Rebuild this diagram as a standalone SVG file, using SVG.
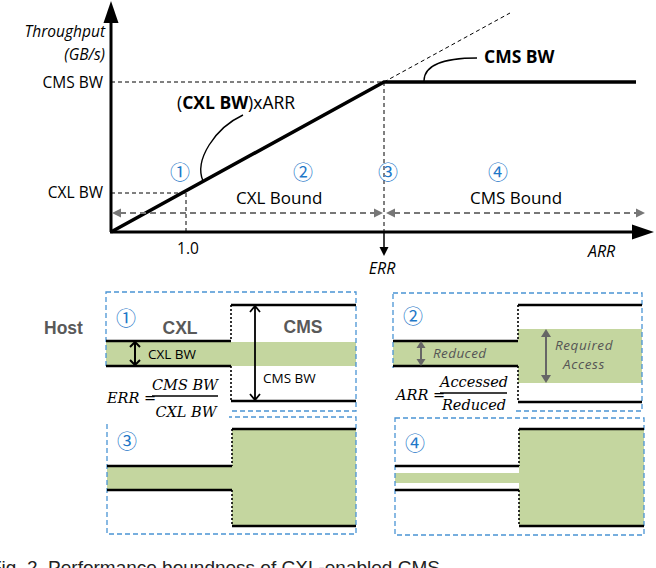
<svg xmlns="http://www.w3.org/2000/svg" width="656" height="568" viewBox="0 0 656 568">
<style>
.sans{font-family:"Open Sans","Noto Sans",sans-serif;fill:#000}
.it{font-style:italic}
.math{font-family:"DejaVu Serif","Liberation Serif",serif;font-style:italic;fill:#000}
.circ{font-family:"Noto Sans CJK JP","DejaVu Sans",sans-serif;fill:#1f78c8;font-size:20px;text-anchor:middle}
.panel{fill:none;stroke:#4a94d4;stroke-width:1.3;stroke-dasharray:5,3}
.wire{stroke:#000;stroke-width:2.5;fill:none}
.dotv{stroke:#000;stroke-width:1.6;stroke-dasharray:2,2;fill:none}
.green{fill:#c4d69f}
.thin{stroke:#000;stroke-width:1;stroke-dasharray:4,3;fill:none}
.hd{font-family:"Liberation Sans",Arial,sans-serif;font-weight:bold;fill:#595959;font-size:17.5px}
.gray{stroke:#777;stroke-width:2;stroke-dasharray:6,4;fill:none}
</style>
<rect width="656" height="568" fill="#fff"/>

<g id="chart">
  <g id="axes">
    <line x1="111" y1="232" x2="111" y2="20" stroke="#000" stroke-width="3"/>
    <polygon points="111,1 103.5,23 118.5,23" fill="#000"/>
    <line x1="110" y1="232" x2="634" y2="232" stroke="#000" stroke-width="3"/>
    <polygon points="654,232 632,224.5 632,239.5" fill="#000"/>
  </g>
  <g id="guides">
    <line class="thin" x1="111" y1="82" x2="384" y2="82"/>
    <line class="thin" x1="111" y1="193" x2="186" y2="193"/>
    <line class="thin" x1="186" y1="193" x2="186" y2="232"/>
    <line class="thin" x1="384" y1="82" x2="384" y2="232"/>
    <line class="thin" x1="384" y1="82" x2="510" y2="13"/>
  </g>
  <g id="curve">
    <polyline points="111,232 384,82 636,82" fill="none" stroke="#000" stroke-width="3.5"/>
    <path d="M424,81 C424,66 440,58 477,58" fill="none" stroke="#000" stroke-width="1.4"/>
    <path d="M243,115 C215,128 194,160 203,181" fill="none" stroke="#000" stroke-width="1.4"/>
  </g>
  <g id="bounds">
    <line class="gray" x1="120" y1="213" x2="376" y2="213"/>
    <polygon points="112,213 121,208.5 121,217.5" fill="#777"/>
    <polygon points="383,213 374,208.5 374,217.5" fill="#777"/>
    <line class="gray" x1="394" y1="213" x2="637" y2="213"/>
    <polygon points="386,213 395,208.5 395,217.5" fill="#777"/>
    <polygon points="645,213 636,208.5 636,217.5" fill="#777"/>
  </g>
  <g id="err-arrow">
    <line x1="384" y1="232" x2="384" y2="249" stroke="#000" stroke-width="1.5"/>
    <polygon points="384,256 379.5,247 388.5,247" fill="#000"/>
  </g>
  <g id="chart-labels">
    <text class="sans it" x="105" y="37" font-size="15.5" text-anchor="end">Throughput</text>
    <text class="sans it" x="105" y="60" font-size="15.5" text-anchor="end">(GB/s)</text>
    <text class="sans" x="103" y="88" font-size="15.5" text-anchor="end">CMS BW</text>
    <text class="sans" x="103" y="198" font-size="15.5" text-anchor="end">CXL BW</text>
    <text class="sans" x="188" y="254" font-size="15.5" text-anchor="middle">1.0</text>
    <text class="sans" x="177" y="109" font-size="17.5">(<tspan font-weight="bold">CXL BW</tspan>)xARR</text>
    <text class="sans" x="484" y="63" font-size="17.5" font-weight="bold">CMS BW</text>
    <text class="sans" x="236" y="204" font-size="17">CXL Bound</text>
    <text class="sans" x="470" y="204" font-size="17">CMS Bound</text>
    <text class="sans it" x="382" y="274" font-size="16" text-anchor="middle">ERR</text>
    <text class="sans it" x="588" y="257" font-size="16">ARR</text>
    <text class="circ" x="180" y="180">①</text>
    <text class="circ" x="303" y="180">②</text>
    <text class="circ" x="388" y="180">③</text>
    <text class="circ" x="498" y="180">④</text>
  </g>
</g>

<text class="hd" x="44" y="334" font-size="17">Host</text>

<g id="panel1">
  <rect class="green" x="106" y="342" width="250" height="24"/>
  <rect class="panel" x="106" y="292" width="250" height="119"/>
  <line class="wire" x1="106" y1="341" x2="231" y2="341"/>
  <line class="wire" x1="106" y1="366" x2="231" y2="366"/>
  <line class="wire" x1="231" y1="305" x2="356" y2="305"/>
  <line class="wire" x1="231" y1="401" x2="356" y2="401"/>
  <line class="dotv" x1="231" y1="305" x2="231" y2="341"/>
  <line class="dotv" x1="231" y1="366" x2="231" y2="401"/>
  <path d="M135,342 L135,365 M130,347 L135,342 L140,347 M130,360 L135,365 L140,360" fill="none" stroke="#000" stroke-width="2"/>
  <path d="M255,306 L255,400 M250,312 L255,306 L260,312 M250,394 L255,400 L260,394" fill="none" stroke="#000" stroke-width="1.8"/>
  <text class="circ" x="126" y="326">①</text>
  <text class="hd" x="180" y="334" text-anchor="middle">CXL</text>
  <text class="hd" x="303" y="333" text-anchor="middle">CMS</text>
  <text class="sans" x="148" y="359" font-size="13.5">CXL BW</text>
  <text class="sans" x="263" y="383" font-size="13.5">CMS BW</text>
</g>

<g id="panel2">
  <rect class="green" x="393" y="342" width="125" height="24"/>
  <rect class="green" x="518" y="329" width="124" height="54"/>
  <rect class="panel" x="393" y="293" width="249" height="118"/>
  <line class="wire" x1="393" y1="341" x2="518" y2="341"/>
  <line class="wire" x1="393" y1="366" x2="518" y2="366"/>
  <line class="wire" x1="518" y1="305" x2="642" y2="305"/>
  <line class="wire" x1="518" y1="402" x2="642" y2="402"/>
  <line class="dotv" x1="518" y1="305" x2="518" y2="341"/>
  <line class="dotv" x1="518" y1="366" x2="518" y2="402"/>
  <line x1="421" y1="347" x2="421" y2="360" stroke="#666" stroke-width="2"/>
  <polygon points="421,341 416.5,348 425.5,348" fill="#666"/>
  <polygon points="421,366 416.5,359 425.5,359" fill="#666"/>
  <line x1="546" y1="336" x2="546" y2="376" stroke="#666" stroke-width="2"/>
  <polygon points="546,329 541,337 551,337" fill="#666"/>
  <polygon points="546,383 541,375 551,375" fill="#666"/>
  <text class="circ" x="413" y="324">②</text>
  <text class="sans it" x="433" y="358" font-size="13.5" style="fill:#555" letter-spacing="0.4">Reduced</text>
  <text class="sans it" x="584" y="350" font-size="13.5" text-anchor="middle" style="fill:#555" letter-spacing="0.6">Required</text>
  <text class="sans it" x="584" y="369" font-size="13.5" text-anchor="middle" style="fill:#555" letter-spacing="0.6">Access</text>
</g>

<g id="panel3">
  <rect class="green" x="107" y="467" width="125" height="23"/>
  <rect class="green" x="232" y="429" width="124" height="97"/>
  <rect class="panel" x="107" y="417" width="249" height="117"/>
  <line class="wire" x1="107" y1="466" x2="232" y2="466"/>
  <line class="wire" x1="107" y1="490" x2="232" y2="490"/>
  <line class="wire" x1="232" y1="429" x2="356" y2="429"/>
  <line class="wire" x1="232" y1="526" x2="356" y2="526"/>
  <line class="dotv" x1="232" y1="429" x2="232" y2="466"/>
  <line class="dotv" x1="232" y1="490" x2="232" y2="526"/>
  <text class="circ" x="127" y="449">③</text>
</g>

<g id="panel4">
  <rect class="green" x="395" y="473" width="124" height="10"/>
  <rect class="green" x="519" y="429" width="125" height="97"/>
  <rect class="panel" x="395" y="418" width="249" height="117"/>
  <line class="wire" x1="395" y1="466" x2="519" y2="466"/>
  <line class="wire" x1="395" y1="490" x2="519" y2="490"/>
  <line class="wire" x1="519" y1="429" x2="644" y2="429"/>
  <line class="wire" x1="519" y1="526" x2="644" y2="526"/>
  <line class="dotv" x1="519" y1="429" x2="519" y2="466"/>
  <line class="dotv" x1="519" y1="490" x2="519" y2="526"/>
  <text class="circ" x="415" y="451">④</text>
</g>

<g id="formula-err">
  <rect x="100" y="368" width="129" height="53" fill="#fff"/>
  <text class="math" x="107" y="403" font-size="14.5">ERR =</text>
  <line x1="152" y1="396" x2="218" y2="396" stroke="#000" stroke-width="1.3"/>
  <text class="math" x="185" y="390" font-size="14.5" text-anchor="middle">CMS BW</text>
  <text class="math" x="186" y="417" font-size="14.5" text-anchor="middle">CXL BW</text>
</g>

<g id="formula-arr">
  <rect x="388" y="368" width="127" height="48" fill="#fff"/>
  <text class="math" x="396" y="400" font-size="14.5">ARR =</text>
  <line x1="440" y1="393" x2="507" y2="393" stroke="#000" stroke-width="1.3"/>
  <text class="math" x="474" y="387" font-size="14.5" text-anchor="middle">Accessed</text>
  <text class="math" x="474" y="410" font-size="14.5" text-anchor="middle">Reduced</text>
</g>

<text x="-10" y="574" font-family="Liberation Sans,Arial,sans-serif" font-size="19" fill="#222">Fig. 2. Performance boundness of CXL-enabled CMS</text>
</svg>
